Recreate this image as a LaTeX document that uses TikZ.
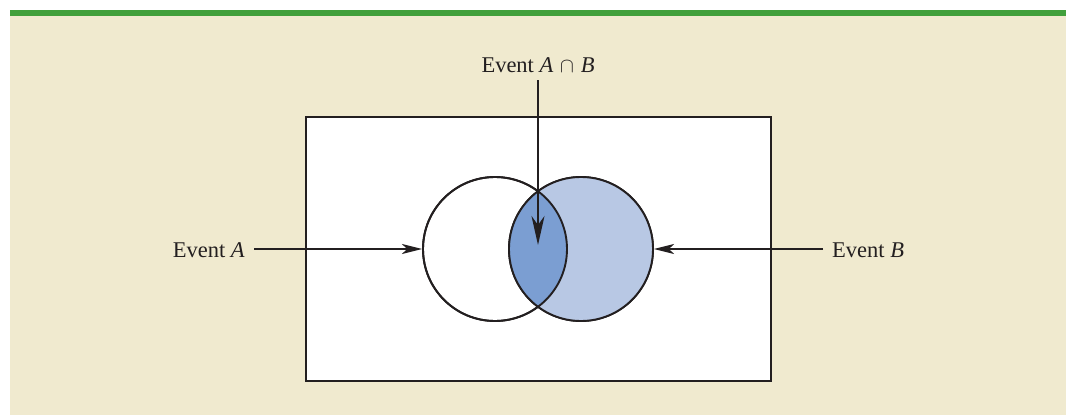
\documentclass[tikz,border=0pt]{standalone}
\usepackage{fontspec}
\setmainfont{Liberation Serif}
\usepackage{tikz}
\usetikzlibrary{arrows.meta,positioning,calc}
\definecolor{barGreen}{HTML}{41A03C}
\definecolor{Panel}{HTML}{F0EACF}
\definecolor{Ink}{HTML}{231F20}
\definecolor{lightB}{HTML}{B8C8E4}
\definecolor{darkB}{HTML}{7B9ED2}

\begin{document}
\begin{tikzpicture}[x=1pt,y=-1pt,
  event/.style={circle,draw=Ink,line width=1.9pt,minimum size=144pt,inner sep=0pt},
  lab/.style={font=\fontsize{22.5}{26}\selectfont,text=Ink,inner ysep=0pt,inner xsep=9pt},
  arrow/.style={-{Stealth[length=20pt,width=10pt,inset=5pt]},line width=1.9pt,color=Ink},
  bigarrow/.style={-{Stealth[length=29pt,width=13pt,inset=9pt]},line width=1.9pt,color=Ink}
]
\useasboundingbox (0,0) rectangle (1066,415);
% panel and top bar
\fill[Panel] (10,16) rectangle (1066,415);
\fill[barGreen] (10,10) rectangle (1066,16);

% sample space
\node[draw=Ink,fill=white,line width=1.9pt,minimum width=465pt,minimum height=264pt,inner sep=0pt] (space) at (538.5,249) {};

% the two events
\node[event] (circA) at (495,249) {};
\node[event] (circB) at (581,249) {};
\fill[lightB] (circB.center) circle (72);
\begin{scope}
  \clip (circA.center) circle (72);
  \fill[darkB] (circB.center) circle (72);
\end{scope}
\draw[Ink,line width=1.9pt] (circA.center) circle (72);
\draw[Ink,line width=1.9pt] (circB.center) circle (72);

% labels
\node[lab,anchor=base east] (labA) at (254,257) {Event \textit{A}};
\node[lab,anchor=base west] (labB) at (823,257) {Event \textit{B}};
\node[lab,anchor=base,inner ysep=8pt] (labAB) at (538,72) {Event \textit{A}\hspace{0.3em}$\cap$\hspace{0.3em}\textit{B}};
\coordinate (capTip) at (538,245);

\draw[arrow] (labA.east |- circA.west) -- (circA.west);
\draw[arrow] (labB.west |- circB.east) -- (circB.east);
\draw[bigarrow] (labAB.south) -- (capTip);
\end{tikzpicture}
\end{document}
